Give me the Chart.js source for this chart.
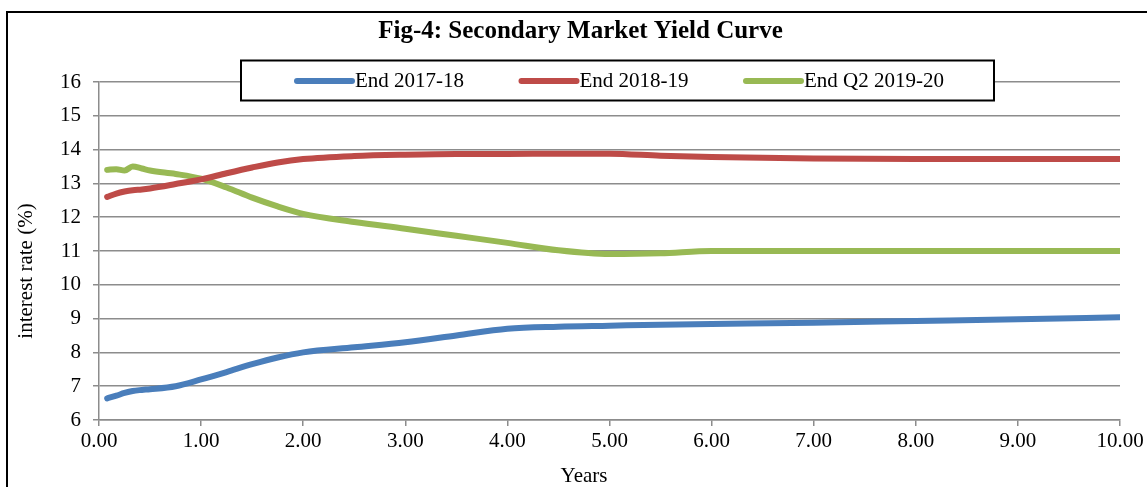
<!DOCTYPE html>
<html>
<head>
<meta charset="utf-8">
<script src="https://cdn.jsdelivr.net/npm/chart.js@4/dist/chart.umd.min.js"></script>
<style>
html,body{margin:0;padding:0;background:#fff;}
#c{display:block;}
</style>
</head>
<body>
<canvas id="c" width="1147" height="487" style="width:1147px;height:487px"></canvas>
<script>
const chartTitle = "Fig-4: Secondary Market Yield Curve";
const xAxisTitle = "Years";
const yAxisTitle = "interest rate (%)";
const seriesLabels = ["End 2017-18", "End 2018-19", "End Q2 2019-20"];
const seriesColors = ["#4a7ebb", "#be4b48", "#98b954"];

const years = [0.08, 0.17, 0.25, 0.33, 0.42, 0.5, 0.75, 1.0, 1.25, 1.5, 1.75, 2.0, 2.5, 3.0, 3.5, 4.0, 4.5, 5.0, 5.5, 6.0, 7.0, 8.0, 9.0, 10.0];
const end2017 = [6.64, 6.72, 6.80, 6.86, 6.89, 6.91, 7.00, 7.20, 7.42, 7.65, 7.85, 8.00, 8.15, 8.30, 8.50, 8.70, 8.76, 8.79, 8.82, 8.84, 8.88, 8.93, 8.98, 9.04];
const end2018 = [12.60, 12.70, 12.76, 12.80, 12.82, 12.85, 12.98, 13.12, 13.30, 13.47, 13.62, 13.72, 13.81, 13.85, 13.87, 13.87, 13.88, 13.88, 13.82, 13.78, 13.74, 13.72, 13.72, 13.72];
const endQ2 = [13.40, 13.42, 13.38, 13.50, 13.44, 13.38, 13.28, 13.14, 12.88, 12.58, 12.32, 12.10, 11.86, 11.66, 11.45, 11.24, 11.02, 10.91, 10.93, 11.00, 11.00, 11.00, 11.00, 11.00];

const xTicks = [0, 1, 2, 3, 4, 5, 6, 7, 8, 9, 10];
const yTicks = [6, 7, 8, 9, 10, 11, 12, 13, 14, 15, 16];

const allSeries = [end2017, end2018, endQ2];
const FONT = "'Liberation Serif', 'Times New Roman', serif";
const GRID = "#8c8c8c";

const decor = {
  id: 'decor',
  afterDraw(chart) {
    const ctx = chart.ctx;
    ctx.save();
    // outer border
    ctx.strokeStyle = '#000';
    ctx.lineWidth = 2;
    ctx.strokeRect(7, 12, 1160, 500);
    // title
    ctx.fillStyle = '#000';
    ctx.font = "bold 25px " + FONT;
    ctx.textAlign = 'center';
    ctx.textBaseline = 'middle';
    ctx.fillText(chartTitle, 580.5, 32);
    // x axis title
    ctx.font = "21px " + FONT;
    ctx.fillText(xAxisTitle, 584, 476);
    // y axis title
    ctx.save();
    ctx.translate(26.5, 271);
    ctx.rotate(-Math.PI / 2);
    ctx.fillText(yAxisTitle, 0, 0);
    ctx.restore();
    // legend box
    ctx.fillStyle = '#fff';
    ctx.fillRect(241, 60.5, 753, 40);
    ctx.strokeStyle = '#000';
    ctx.lineWidth = 2;
    ctx.strokeRect(241, 60.5, 753, 40);
    ctx.textAlign = 'left';
    chart.data.datasets.forEach((ds, i) => {
      const x0 = 297 + i * 224.5;
      ctx.strokeStyle = ds.borderColor;
      ctx.lineWidth = 6;
      ctx.lineCap = 'round';
      ctx.beginPath();
      ctx.moveTo(x0, 81);
      ctx.lineTo(x0 + 55, 81);
      ctx.stroke();
      ctx.fillStyle = '#000';
      ctx.font = "21px " + FONT;
      ctx.fillText(ds.label, x0 + 58, 81);
    });
    ctx.restore();
  }
};

new Chart(document.getElementById('c'), {
  type: 'line',
  data: {
    labels: years,
    datasets: allSeries.map((vals, i) => ({
      label: seriesLabels[i],
      data: years.map((x, j) => ({x: x, y: vals[j]})),
      borderColor: seriesColors[i],
      backgroundColor: seriesColors[i],
      borderWidth: 6,
      pointRadius: 0,
      fill: false,
      cubicInterpolationMode: 'monotone',
      borderCapStyle: 'round',
      borderJoinStyle: 'round'
    }))
  },
  options: {
    responsive: false,
    animation: false,
    layout: {padding: {left: 0, top: 82, right: 27, bottom: 0}},
    plugins: {legend: {display: false}, title: {display: false}, tooltip: {enabled: false}},
    scales: {
      x: {
        type: 'linear',
        min: 0, max: 10,
        afterBuildTicks: (s) => { s.ticks = xTicks.map(v => ({value: v})); },
        afterFit: (s) => { s.height = 67; },
        ticks: {
          color: '#000',
          font: {family: FONT, size: 21},
          padding: 3,
          maxRotation: 0,
          callback: (v) => Number(v).toFixed(2)
        },
        grid: {drawOnChartArea: false, drawTicks: true, tickLength: 6, color: GRID, lineWidth: 1.5},
        border: {display: true, color: GRID, width: 1.5}
      },
      y: {
        min: 6, max: 16,
        afterBuildTicks: (s) => { s.ticks = yTicks.map(v => ({value: v})); },
        afterFit: (s) => { s.width = 99; },
        ticks: {
          color: '#000',
          font: {family: FONT, size: 21},
          padding: 12
        },
        grid: {drawOnChartArea: true, drawTicks: true, tickLength: 6, color: GRID, lineWidth: 1.5},
        border: {display: true, color: GRID, width: 1.5}
      }
    }
  },
  plugins: [decor]
});
</script>
</body>
</html>
